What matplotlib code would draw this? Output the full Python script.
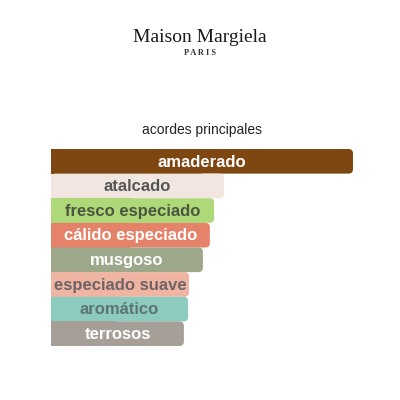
import matplotlib
matplotlib.use("Agg")
import matplotlib.pyplot as plt
from matplotlib.patches import FancyBboxPatch, Rectangle

# acordes principales
accords = ['amaderado', 'atalcado', 'fresco especiado', 'cálido especiado',
           'musgoso', 'especiado suave', 'aromático', 'terrosos']
strength = [100, 57.3, 54.0, 52.6, 50.3, 45.7, 45.4, 44.0]
bar_colors = ['#7E4610', '#F2E7E0', '#AFD978', '#E5826A',
              '#9DA78A', '#EFB4A2', '#8ECBBF', '#A69F98']
text_colors = ['#FFFFFF', '#555555', '#4A5640', '#FFFFFF',
               '#FFFFFF', '#6E6466', '#5B7472', '#FFFFFF']

fig = plt.figure(figsize=(4, 4), dpi=100)
fig.patch.set_facecolor('white')

# logo
fig.text(0.5, 1 - 38 / 400, 'Maison Margiela', ha='center', va='center',
         family='Liberation Serif', fontsize=14, color='#1a1a1a')
fig.text(0.5, 1 - 53 / 400, 'P A R I S', ha='center', va='center',
         family='Liberation Serif', fontsize=6, color='#333333', weight='bold')

fig.text(202 / 400, 1 - 130 / 400, 'acordes principales', ha='center', va='center',
         family='Liberation Sans', fontsize=10, color='#222222')

# axes spanning x 51..353 px, y 149..346 px
ax = fig.add_axes([51 / 400, 1 - 346 / 400, 302 / 400, 197 / 400])
ax.set_xlim(0, 100)
ax.set_ylim(len(accords) - 0.5, -0.5)
ax.axis('off')

bars = ax.barh(range(len(accords)), strength, height=1.0, color=bar_colors)

px_x = 302 / 100
px_y = 197 / len(accords)
r = 4.5 / px_x
for bar, c, name, tc in zip(bars, bar_colors, accords, text_colors):
    x, y = bar.get_x(), bar.get_y()
    w, h = bar.get_width(), bar.get_height()
    bar.set_visible(False)
    ax.add_patch(FancyBboxPatch((x, y), w, h,
                                boxstyle=f'round,pad=0,rounding_size={r}',
                                mutation_aspect=px_x / px_y,
                                facecolor=c, edgecolor='none'))
    ax.add_patch(Rectangle((x, y), w / 2, h, facecolor=c, edgecolor='none'))
    ax.text(x + w / 2, y + h / 2 + 0.03, name, ha='center', va='center',
            family='Liberation Sans', fontsize=12, weight='bold', color=tc)

fig.savefig('out.png', dpi=100, facecolor='white')
